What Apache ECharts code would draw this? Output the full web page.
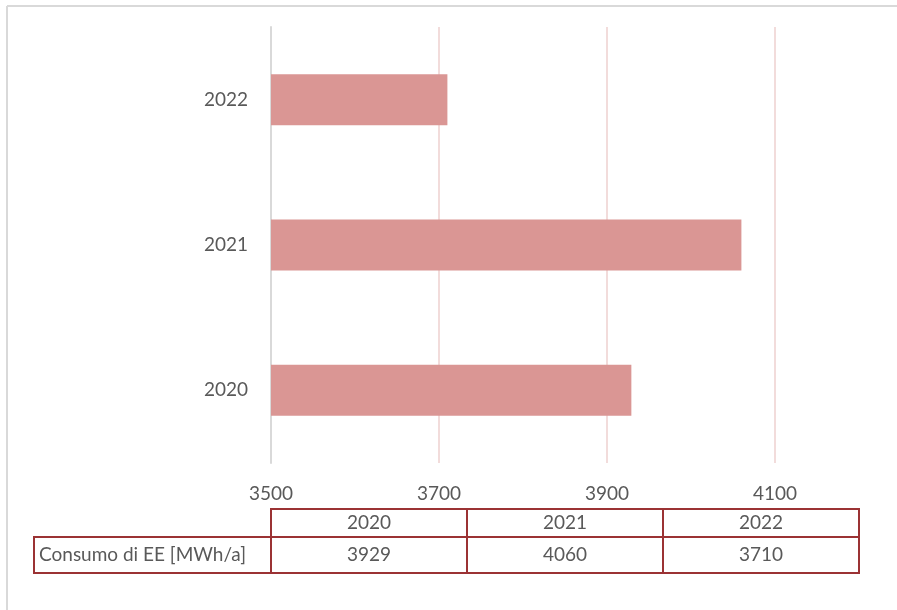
<!DOCTYPE html>
<html>
<head>
<meta charset="utf-8">
<script src="https://cdn.jsdelivr.net/npm/echarts@6/dist/echarts.min.js"></script>
<style>
  html, body { margin: 0; padding: 0; background: #fff; }
  #chart { width: 897px; height: 610px; }
</style>
</head>
<body>
<div id="chart"></div>
<script>
// dati
const years = ['2020', '2021', '2022']
const consumo = [3929, 4060, 3710]
const rowLabel = 'Consumo di EE [MWh/a]'
const xTicks = [3500, 3700, 3900, 4100]

const FONT = 'Lato'
const TEXT = '#595959'
const RED = '#9b3234'

const chart = echarts.init(document.getElementById('chart'))

chart.setOption({
  animation: false,
  grid: { left: 271, right: 38, top: 27, bottom: 147 },
  xAxis: {
    type: 'value',
    min: 3500,
    max: 4200,
    interval: 200,
    axisLine: { show: false },
    axisTick: { show: false },
    axisLabel: {
      color: TEXT, fontFamily: FONT, fontSize: 19, margin: 21,
      showMaxLabel: false,
      formatter: v => (xTicks.includes(v) ? String(v) : '')
    },
    splitLine: { show: true, showMinLine: false, showMaxLine: false, lineStyle: { color: '#f2dcdb', width: 2 } }
  },
  yAxis: {
    type: 'category',
    data: years,
    axisLine: { show: true, lineStyle: { color: '#d9d9d9', width: 2 } },
    axisTick: { show: false },
    axisLabel: { color: TEXT, fontFamily: FONT, fontSize: 19, margin: 23 }
  },
  series: [{
    type: 'bar',
    data: consumo,
    barWidth: 51,
    itemStyle: { color: '#da9694' }
  }]
})

// tabella dati + bordo esterno
const x0 = chart.convertToPixel({ xAxisIndex: 0 }, 3500)
const x1 = chart.convertToPixel({ xAxisIndex: 0 }, 4200)
const colW = (x1 - x0) / years.length
const tTop = 509, tMid = 537, tBot = 573, hdrLeft = 34
const elems = [
  { type: 'line', shape: { x1: 7, y1: 6, x2: 897, y2: 6 }, style: { stroke: '#d9d9d9', lineWidth: 2 } },
  { type: 'line', shape: { x1: 7, y1: 6, x2: 7, y2: 610 }, style: { stroke: '#d9d9d9', lineWidth: 2 } },
  { type: 'rect', shape: { x: x0, y: tTop, width: x1 - x0, height: tBot - tTop }, style: { fill: 'none', stroke: RED, lineWidth: 2 } },
  { type: 'rect', shape: { x: hdrLeft, y: tMid, width: x0 - hdrLeft, height: tBot - tMid }, style: { fill: 'none', stroke: RED, lineWidth: 2 } },
  { type: 'line', shape: { x1: x0, y1: tMid, x2: x1, y2: tMid }, style: { stroke: RED, lineWidth: 2 } },
  { type: 'text', style: { text: rowLabel, x: hdrLeft + 5, y: (tMid + tBot) / 2, verticalAlign: 'middle', fill: TEXT, font: '19px ' + FONT } }
]
years.forEach((y, i) => {
  const cx = x0 + colW * (i + 0.5)
  if (i > 0) elems.push({ type: 'line', shape: { x1: x0 + colW * i, y1: tTop, x2: x0 + colW * i, y2: tBot }, style: { stroke: RED, lineWidth: 2 } })
  elems.push({ type: 'text', style: { text: y, x: cx, y: (tTop + tMid) / 2, align: 'center', verticalAlign: 'middle', fill: TEXT, font: '19px ' + FONT } })
  elems.push({ type: 'text', style: { text: String(consumo[i]), x: cx, y: (tMid + tBot) / 2, align: 'center', verticalAlign: 'middle', fill: TEXT, font: '19px ' + FONT } })
})
chart.setOption({ graphic: { elements: elems } })
</script>
</body>
</html>
